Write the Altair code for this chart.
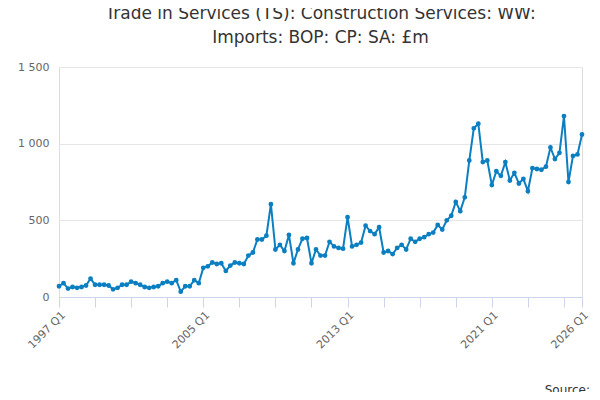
import altair as alt
import pandas as pd

series_name = "Trade in Services (TS): Construction Services: WW: Imports: BOP: CP: SA: £m"

values = [
    70, 90, 55, 65, 60, 65, 75, 120, 80, 80, 80, 75, 50, 60, 80, 80, 100, 90, 80, 65,
    60, 65, 70, 90, 100, 90, 110,
    35,
    70, 70, 110, 90, 190, 200, 225, 215, 220, 170, 205, 225, 220, 215, 270, 290, 375, 375, 400,
    605,
    310, 340, 300, 405, 220, 310, 380, 385, 220, 310, 270, 270, 360, 330, 320, 315,
    520,
    330, 340, 355, 465, 430, 410, 455, 290, 300, 280, 320, 340, 310, 380, 360, 380, 390, 410,
    420, 470, 440, 500, 530, 620, 560, 650, 890, 1100,
    1130,
    880, 890, 730, 820, 790, 880, 760, 810, 740, 770, 690, 840, 835, 830, 850, 975, 900, 940,
    1180,
    750, 920, 930, 1060,
]
quarters = [f"{1997 + i // 4} Q{i % 4 + 1}" for i in range(len(values))]
tick_idx = list(range(0, 116, 8)) + [116]
label_idx = [0, 32, 64, 96, 116]

df = pd.DataFrame({"i": range(len(values)), "quarter": quarters, "value": values, "series": series_name})

label_expr = " : ".join(
    f"datum.value == {i} ? '{quarters[i]}'" for i in label_idx
) + " : ''"

line = (
    alt.Chart(df)
    .mark_line(color="#0b7fc1", strokeWidth=2, point=alt.OverlayMarkDef(color="#0b7fc1", size=8, filled=True))
    .encode(
        x=alt.X("i:Q", scale=alt.Scale(domain=[0, 116], nice=False),
                axis=alt.Axis(values=tick_idx, labelExpr=label_expr, labelAngle=-45, grid=False,
                              domainColor="#ccd6eb", tickColor="#ccd6eb", tickSize=10,
                              labelColor="#666666", labelFontSize=11, title=None, labelOverlap=False)),
        y=alt.Y("value:Q", scale=alt.Scale(domain=[0, 1500]),
                axis=alt.Axis(values=[0, 500, 1000, 1500], domain=False, ticks=False, labelPadding=10,
                              gridColor="#e6e6e6", labelColor="#666666", labelFontSize=11, title=None,
                              labelExpr="replace(format(datum.value, ','), ',', ' ')")),
        stroke=alt.Stroke("series:N", scale=alt.Scale(range=["#0b7fc1"]),
                          legend=alt.Legend(orient="bottom", title=None, labelFontSize=12,
                                            labelFontWeight="bold", labelColor="#333333",
                                            symbolType="stroke", labelLimit=600, offset=48)),
        tooltip=["quarter:N", "value:Q"],
    )
)

source = alt.Chart(pd.DataFrame({"t": ["Source:"]})).mark_text(
    align="right", fontSize=12, color="#333333"
).encode(x=alt.value(531), y=alt.value(323), text="t:N")

chart = (
    alt.layer(line, source)
    .properties(
        width=523, height=230,
        autosize="none",
        padding={"left": 51, "top": 59, "right": 10, "bottom": 95},
        title=alt.TitleParams(["Trade in Services (TS): Construction Services: WW:", "Imports: BOP: CP: SA: £m"],
                              fontSize=17, fontWeight="normal", color="#333333", anchor="middle",
                              offset=14, lineHeight=24),
    )
    .configure_view(stroke=None)
    .configure(font="DejaVu Sans")
)

chart.save("out.html", embed_options={"renderer": "svg", "actions": False})
